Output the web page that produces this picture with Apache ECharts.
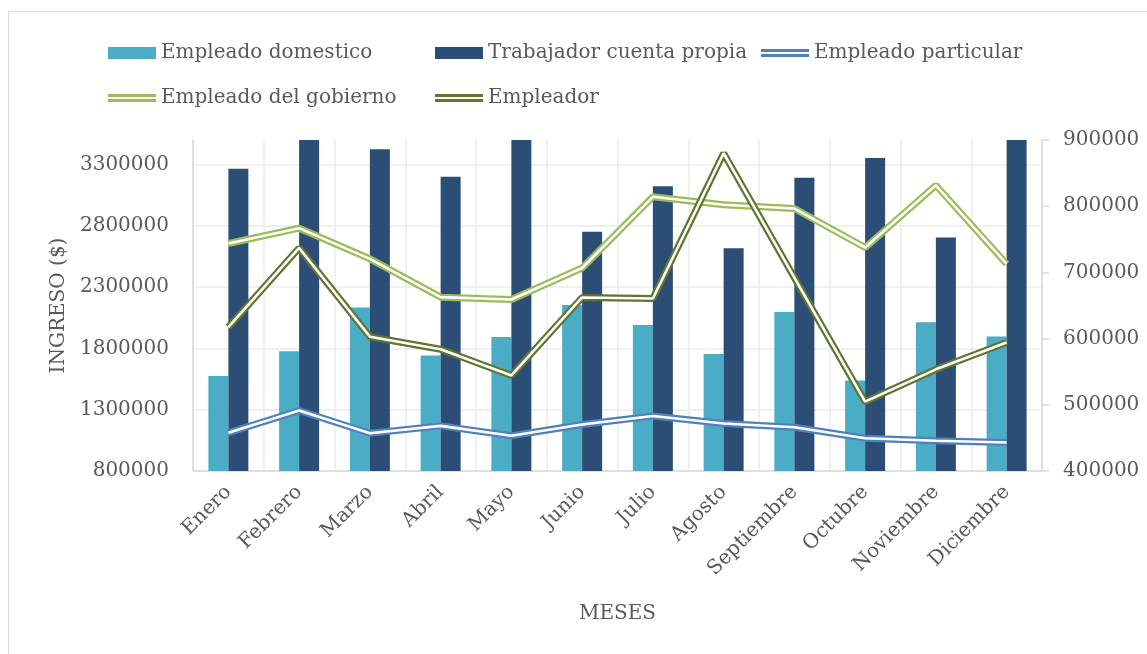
<!DOCTYPE html>
<html>
<head>
<meta charset="utf-8">
<script src="https://cdn.jsdelivr.net/npm/echarts@6/dist/echarts.min.js"></script>
<style>
  html, body { margin: 0; padding: 0; background: #fff; }
  #frame { position: absolute; left: 8px; top: 11px; width: 1200px; height: 700px; border: 1.5px solid #d9d9d9; }
  #main { position: absolute; left: 0; top: 0; width: 1147px; height: 654px; }
</style>
</head>
<body>
<div id="frame"></div>
<div id="main"></div>
<script>
const chart = echarts.init(document.getElementById('main'))

const meses = ['Enero','Febrero','Marzo','Abril','Mayo','Junio','Julio','Agosto','Septiembre','Octubre','Noviembre','Diciembre']
const domestico = [1575000, 1777000, 2133000, 1742000, 1894000, 2154000, 1991000, 1755000, 2097000, 1538000, 2013000, 1897000]
const cuentaPropia = [3265000, 3600000, 3425000, 3200000, 3600000, 2752000, 3123000, 2618000, 3192000, 3354000, 2705000, 3600000]
const particular = [1112000, 1293000, 1108000, 1168000, 1087000, 1179000, 1248000, 1187000, 1157000, 1067000, 1047000, 1032000]
const gobierno = [743700, 766800, 720500, 662600, 659100, 706700, 814200, 802300, 796500, 737600, 831600, 712700]
const empleador = [617300, 736900, 602900, 584000, 544300, 662100, 660600, 880000, 692000, 504700, 553600, 594100]

const fontFam = '"DejaVu Serif", serif'
const txt = '#595959'
const grid = '#ebebeb'
const dbl = 'path://M0,0H48V3H0Z M0,5H48V8H0Z'

// linea doble: linea de color gruesa + linea blanca fina encima
const doble = (name, data, color, axis) => ([
  {
    name: name, type: 'line', yAxisIndex: axis, data: data,
    symbol: 'none', itemStyle: { color: color },
    lineStyle: { color: color, width: 7 }, z: 3
  },
  {
    name: name + '_gap', type: 'line', yAxisIndex: axis, data: data,
    symbol: 'none', silent: true,
    lineStyle: { color: '#ffffff', width: 2.6 }, z: 3
  }
])

const legendBase = {
  orient: 'vertical',
  top: 37,
  itemWidth: 48,
  itemHeight: 12,
  itemGap: 23,
  selectedMode: false,
  itemStyle: { borderWidth: 0 },
  textStyle: { color: txt, fontFamily: fontFam, fontSize: 20, lineHeight: 22 }
}

let option = {
  backgroundColor: 'rgba(0,0,0,0)',
  animation: false,
  legend: [
    Object.assign({}, legendBase, { left: 103, data: [
      { name: 'Empleado domestico', icon: 'rect' },
      { name: 'Empleado del gobierno', icon: dbl }
    ] }),
    Object.assign({}, legendBase, { left: 430, data: [
      { name: 'Trabajador cuenta propia', icon: 'rect' },
      { name: 'Empleador', icon: dbl }
    ] }),
    Object.assign({}, legendBase, { left: 756, data: [
      { name: 'Empleado particular', icon: dbl }
    ] })
  ],
  grid: { left: 193, right: 105, top: 140, bottom: 183 },
  xAxis: {
    type: 'category',
    data: meses,
    name: 'MESES',
    nameLocation: 'middle',
    nameGap: 133,
    nameTextStyle: { color: txt, fontFamily: fontFam, fontSize: 20 },
    axisLine: { lineStyle: { color: '#d9d9d9', width: 1.5 } },
    axisTick: { show: false },
    splitLine: { show: true, lineStyle: { color: grid, width: 1.5 } },
    axisLabel: { rotate: 45, margin: 18, color: txt, fontFamily: fontFam, fontSize: 20 }
  },
  yAxis: [{
    type: 'value',
    min: 800000,
    max: 3500000,
    interval: 500000,
    name: 'INGRESO ($)',
    nameLocation: 'middle',
    nameGap: 113,
    nameTextStyle: { color: txt, fontFamily: fontFam, fontSize: 20 },
    axisLine: { show: true, lineStyle: { color: '#d9d9d9', width: 1.5 } },
    axisTick: { show: false },
    splitLine: { lineStyle: { color: [grid, grid, grid, grid, grid, grid, 'rgba(0,0,0,0)'], width: 1.5 } },
    axisLabel: { showMaxLabel: false, margin: 24, color: txt, fontFamily: fontFam, fontSize: 20, formatter: v => String(v) }
  }, {
    type: 'value',
    min: 400000,
    max: 900000,
    interval: 100000,
    position: 'right',
    axisLine: { show: true, lineStyle: { color: '#d9d9d9', width: 1.5 } },
    axisTick: { show: true, length: 7, lineStyle: { color: '#d9d9d9', width: 1.5 } },
    splitLine: { show: false },
    axisLabel: { margin: 21, color: txt, fontFamily: fontFam, fontSize: 20, formatter: v => String(v) }
  }],
  series: [
    {
      name: 'Empleado domestico', type: 'bar', data: domestico,
      barWidth: 20, barGap: '0%',
      itemStyle: { color: '#4bacc6' }
    },
    {
      name: 'Trabajador cuenta propia', type: 'bar', data: cuentaPropia,
      barWidth: 20, barGap: '0%',
      itemStyle: { color: '#2c4d75' }
    },
    ...doble('Empleado particular', particular, '#4f81bd', 0),
    ...doble('Empleado del gobierno', gobierno, '#9bbb59', 1),
    ...doble('Empleador', empleador, '#5f7530', 1)
  ]
}
chart.setOption(option)
</script>
</body>
</html>
